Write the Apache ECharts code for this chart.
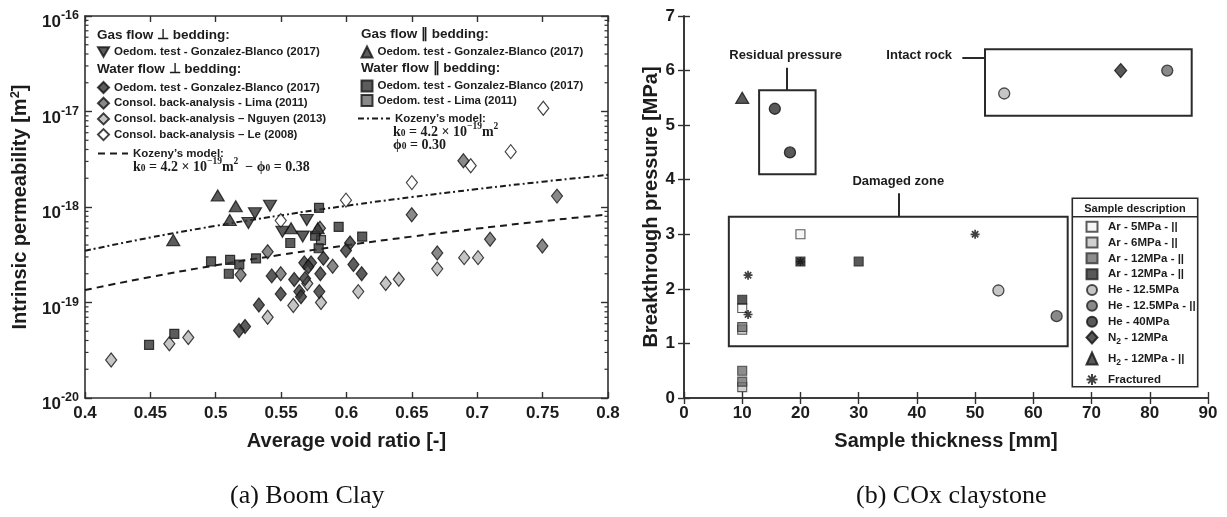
<!DOCTYPE html>
<html><head><meta charset="utf-8">
<script src="https://cdn.jsdelivr.net/npm/echarts@6/dist/echarts.min.js"></script>
<style>html,body{margin:0;padding:0;background:#fff}#c{width:1227px;height:517px}</style>
</head><body><div id="c"></div>
<script>
// ================= Panel (a) Boom Clay : [average void ratio, intrinsic permeability m2]
const gasPerpGonzalez = [[0.5415,1.03e-18],[0.530,8.6e-19],[0.525,6.8e-19],[0.5696,7.3e-19],[0.551,5.5e-19],[0.5665,4.9e-19]];
const gasParGonzalez = [[0.5015,1.32e-18],[0.5153,1.02e-18],[0.5107,7.3e-19],[0.4675,4.5e-19],[0.5576,6.0e-19],[0.578,6.0e-19]];
const waterPerpGonzalez = [[0.6027,4.2e-19],[0.5996,3.5e-19],[0.5823,2.9e-19],[0.5677,2.6e-19],[0.5729,2.6e-19],[0.6053,2.5e-19],[0.5708,2.37e-19],[0.5428,1.9e-19],[0.580,2.0e-19],[0.6116,2.0e-19],[0.560,1.74e-19],[0.5683,1.78e-19],[0.5639,1.3e-19],[0.5792,1.3e-19],[0.5497,1.23e-19],[0.5652,1.15e-19],[0.533,9.4e-20],[0.5224,5.6e-20],[0.5178,5.1e-20]];
const waterPerpLima = [[0.6894,3.05e-18],[0.761,1.3e-18],[0.6499,8.3e-19],[0.7098,4.6e-19],[0.7498,3.9e-19],[0.6694,3.3e-19],[0.5397,3.4e-19],[0.5894,2.4e-19],[0.5497,2.0e-19],[0.519,1.95e-19],[0.5797,6.0e-19]];
const waterPerpNguyen = [[0.690,2.95e-19],[0.7006,2.95e-19],[0.6694,2.25e-19],[0.640,1.75e-19],[0.630,1.58e-19],[0.609,1.3e-19],[0.5805,1.0e-19],[0.5593,9.3e-20],[0.570,1.58e-19],[0.5397,7.0e-20],[0.479,4.3e-20],[0.4645,3.7e-20],[0.420,2.5e-20]];
const waterPerpLe = [[0.7505,1.08e-17],[0.7256,3.8e-18],[0.695,2.7e-18],[0.650,1.8e-18],[0.5996,1.18e-18],[0.5497,7.2e-19]];
const waterParGonzalez = [[0.4964,2.7e-19],[0.511,2.8e-19],[0.518,2.5e-19],[0.510,2.0e-19],[0.5308,2.9e-19],[0.557,4.2e-19],[0.576,5.0e-19],[0.5787,3.7e-19],[0.579,9.8e-19],[0.594,6.2e-19],[0.612,4.9e-19],[0.4683,4.7e-20],[0.449,3.6e-20]];
const waterParLima = [[0.5805,4.5e-19]];
const kozenyVoidRatio = [0.40,0.45,0.50,0.55,0.60,0.65,0.70,0.75,0.80];
const kozenyPhi038 = [1.35e-19,1.85e-19,2.45e-19,3.16e-19,3.97e-19,4.90e-19,5.94e-19,7.10e-19,8.37e-19];
const kozenyPhi030 = [3.48e-19,4.79e-19,6.35e-19,8.18e-19,1.03e-18,1.27e-18,1.54e-18,1.84e-18,2.17e-18];
const voidRatioTickLabels = ['0.4','0.45','0.5','0.55','0.6','0.65','0.7','0.75','0.8'];
const permExponents = [-20,-19,-18,-17,-16];

// ================= Panel (b) COx claystone : [sample thickness mm, breakthrough pressure MPa]
const thicknessTickLabels = ['0','10','20','30','40','50','60','70','80','90'];
const pressureTickLabels = ['0','1','2','3','4','5','6','7'];
const ar5 = [[20,3.0],[10,1.65]];
const ar6 = [[10,1.25],[10,0.2]];
const ar12a = [[10,1.3],[10,0.5],[10,0.3]];
const ar12b = [[10,1.8],[20,2.5],[30,2.5]];
const he125 = [[55,5.58],[54,1.97]];
const he125par = [[83,6.0],[64,1.5]];
const he40 = [[15.6,5.3],[18.2,4.5]];
const n2 = [[75,6.0]];
const h2 = [[10,5.5]];
const fractured = [[11,2.25],[11,1.53],[20,2.5],[50,3.0]];
const zoneNames = ['Residual pressure','Intact rock','Damaged zone'];
const zoneBoxes = [[[12.9,5.64],[22.6,4.10]],[[51.7,6.39],[87.2,5.17]],[[7.7,3.32],[65.9,0.95]]];
const zoneLeaders = [[[17.6,6.05],[17.6,5.64]],[[47.8,6.24],[51.7,6.24]],[[36.8,3.75],[36.8,3.32]]];
const zoneLabelAt = [[17.45,6.27],[40.4,6.27],[36.8,3.96]];

// ================= build
const FF = '"Liberation Sans", Arial, sans-serif';
const INK = '#1c1c1c';
const FRAME = '#303030';
const chart = echarts.init(document.getElementById('c'), null, {renderer:'canvas'});

const axisLine = {show:true, lineStyle:{color:FRAME, width:1.6}};
const axisTick = {show:true, inside:true, length:6, lineStyle:{color:FRAME, width:1.4}};
const tickFont = {color:INK, fontSize:17, fontWeight:'bold', fontFamily:FF};
const nameFont = {color:INK, fontSize:20, fontWeight:'bold', fontFamily:FF};

const labelMap = {
  gasPerpG:'Oedom. test - Gonzalez-Blanco (2017)',
  waterPerpG:'Oedom. test - Gonzalez-Blanco (2017)',
  waterPerpLima:'Consol. back-analysis - Lima (2011)',
  waterPerpNguyen:'Consol. back-analysis \u2013 Nguyen (2013)',
  waterPerpLe:'Consol. back-analysis \u2013 Le (2008)',
  kozeny038:'Kozeny\u2019s model:',
  gasParG:'Oedom. test - Gonzalez-Blanco (2017)',
  waterParG:'Oedom. test - Gonzalez-Blanco (2017)',
  waterParLima:'Oedom. test - Lima (2011)',
  kozeny030:'Kozeny\u2019s model:',
  ar5:'Ar - 5MPa - ||', ar6:'Ar - 6MPa - ||', ar12a:'Ar - 12MPa - ||', ar12b:'Ar - 12MPa - ||',
  he125:'He - 12.5MPa', he125par:'He - 12.5MPa - ||', he40:'He - 40MPa',
  n2:'{t|N}{sub|2}{t| - 12MPa}', h2:'{t|H}{sub|2}{t| - 12MPa - ||}', frac:'Fractured'
};
const legText = {fontFamily:FF, fontWeight:'bold', fontSize:11.5, color:INK, lineHeight:14,
  rich:{t:{fontFamily:FF, fontWeight:'bold', fontSize:11.5, color:INK, verticalAlign:'middle'},
        sub:{fontFamily:FF, fontWeight:'bold', fontSize:8.5, color:INK, verticalAlign:'middle', padding:[8,0,0,0]}}};
function leg(extra){
  return Object.assign({orient:'vertical', padding:0, itemGap:1.7, itemWidth:11, itemHeight:11,
    selectedMode:false, textStyle:legText, formatter:n=>labelMap[n]}, extra);
}
const legTextR = Object.assign({}, legText, {padding:[0,0,0,5.5]});

const mk = (c)=>({color:c, borderColor:'#111', borderWidth:1.2});
const downTri = 'path://M0,0L10,0L5,8.7Z';
const asterisk = 'path://M5,0L5,10M0,5L10,5M1.5,1.5L8.5,8.5M8.5,1.5L1.5,8.5';

const minorVals = [];
permExponents.slice(0,-1).forEach(e=>{ for(let k=2;k<=9;k++) minorVals.push([0.4, k*Math.pow(10,e)]); });

const series = [
  {name:'kozeny038', type:'line', xAxisIndex:0, yAxisIndex:0, data:kozenyVoidRatio.map((x,i)=>[x,kozenyPhi038[i]]),
   symbol:'none', smooth:true, lineStyle:{color:'#1a1a1a', width:2, type:[7,5]}, itemStyle:{color:'rgba(0,0,0,0)', borderWidth:0}, z:2},
  {name:'kozeny030', type:'line', xAxisIndex:0, yAxisIndex:0, data:kozenyVoidRatio.map((x,i)=>[x,kozenyPhi030[i]]),
   symbol:'none', smooth:true, lineStyle:{color:'#1a1a1a', width:2, type:[6,3,2,3]}, itemStyle:{color:'rgba(0,0,0,0)', borderWidth:0}, z:2},
  {name:'waterPerpNguyen', type:'scatter', xAxisIndex:0, yAxisIndex:0, data:waterPerpNguyen, symbol:'diamond', symbolSize:[11,14], itemStyle:mk('#b6b6b6')},
  {name:'waterPerpLe', type:'scatter', xAxisIndex:0, yAxisIndex:0, data:waterPerpLe, symbol:'diamond', symbolSize:[11,14], itemStyle:mk('#ffffff')},
  {name:'waterPerpLima', type:'scatter', xAxisIndex:0, yAxisIndex:0, data:waterPerpLima, symbol:'diamond', symbolSize:[11,14], itemStyle:mk('#6c6c6c')},
  {name:'waterParLima', type:'scatter', xAxisIndex:0, yAxisIndex:0, data:waterParLima, symbol:'rect', symbolSize:9, itemStyle:mk('#6c6c6c')},
  {name:'waterParG', type:'scatter', xAxisIndex:0, yAxisIndex:0, data:waterParGonzalez, symbol:'rect', symbolSize:9, itemStyle:mk('#333333')},
  {name:'waterPerpG', type:'scatter', xAxisIndex:0, yAxisIndex:0, data:waterPerpGonzalez, symbol:'diamond', symbolSize:[11,14], itemStyle:mk('#333333')},
  {name:'gasParG', type:'scatter', xAxisIndex:0, yAxisIndex:0, data:gasParGonzalez, symbol:'triangle', symbolSize:[13,11], itemStyle:mk('#333333')},
  {name:'gasPerpG', type:'scatter', xAxisIndex:0, yAxisIndex:0, data:gasPerpGonzalez, symbol:downTri, symbolSize:[13,11], itemStyle:mk('#333333')},
  {name:'minorTicks', type:'custom', xAxisIndex:0, yAxisIndex:0, data:minorVals, silent:true, clip:false,
   renderItem:(params, api)=>{
     const v = api.value(1);
     const a = api.coord([0.4, v]); const b = api.coord([0.8, v]);
     return {type:'group', children:[
       {type:'line', shape:{x1:a[0], y1:a[1], x2:a[0]+3.5, y2:a[1]}, style:{stroke:FRAME, lineWidth:1.2}},
       {type:'line', shape:{x1:b[0]-3.5, y1:b[1], x2:b[0], y2:b[1]}, style:{stroke:FRAME, lineWidth:1.2}}]};
   }},
  // panel b
  {name:'zones', type:'scatter', xAxisIndex:2, yAxisIndex:2, data:[], silent:true,
   markArea:{silent:true, itemStyle:{color:'rgba(0,0,0,0)', borderColor:'#2a2a2a', borderWidth:2}, label:{show:false},
     data: zoneBoxes.map(b=>[{coord:b[0]},{coord:b[1]}])},
   markLine:{silent:true, symbol:['none','none'], lineStyle:{type:'solid', color:'#2a2a2a', width:2}, label:{show:false},
     data: zoneLeaders.map(l=>[{coord:l[0]},{coord:l[1]}])},
   markPoint:{silent:true, symbol:'circle', symbolSize:1, itemStyle:{color:'rgba(0,0,0,0)'},
     label:{show:true, position:'inside', formatter:p=>p.name, color:INK, fontSize:13, fontWeight:'bold', fontFamily:FF},
     data: zoneNames.map((n,i)=>({name:n, coord:zoneLabelAt[i]}))}},
  {name:'ar5', type:'scatter', xAxisIndex:2, yAxisIndex:2, data:ar5, symbol:'rect', symbolSize:9, itemStyle:{color:'#f4f4f4', borderColor:'#333', borderWidth:1.1}},
  {name:'ar6', type:'scatter', xAxisIndex:2, yAxisIndex:2, data:ar6, symbol:'rect', symbolSize:9, itemStyle:{color:'#c4c4c4', borderColor:'#333', borderWidth:1.1}},
  {name:'ar12a', type:'scatter', xAxisIndex:2, yAxisIndex:2, data:ar12a, symbol:'rect', symbolSize:9, itemStyle:{color:'#707070', borderColor:'#333', borderWidth:1.1}},
  {name:'ar12b', type:'scatter', xAxisIndex:2, yAxisIndex:2, data:ar12b, symbol:'rect', symbolSize:9, itemStyle:{color:'#2f2f2f', borderColor:'#222', borderWidth:1.1}},
  {name:'he125', type:'scatter', xAxisIndex:2, yAxisIndex:2, data:he125, symbol:'circle', symbolSize:11, itemStyle:{color:'#b8b8b8', borderColor:'#222', borderWidth:1.3}},
  {name:'he125par', type:'scatter', xAxisIndex:2, yAxisIndex:2, data:he125par, symbol:'circle', symbolSize:11, itemStyle:{color:'#6c6c6c', borderColor:'#222', borderWidth:1.3}},
  {name:'he40', type:'scatter', xAxisIndex:2, yAxisIndex:2, data:he40, symbol:'circle', symbolSize:11, itemStyle:{color:'#2f2f2f', borderColor:'#111', borderWidth:1.3}},
  {name:'n2', type:'scatter', xAxisIndex:2, yAxisIndex:2, data:n2, symbol:'diamond', symbolSize:[12,14], itemStyle:{color:'#2f2f2f', borderColor:'#111', borderWidth:1.2}},
  {name:'h2', type:'scatter', xAxisIndex:2, yAxisIndex:2, data:h2, symbol:'triangle', symbolSize:[13,11], itemStyle:{color:'#2f2f2f', borderColor:'#111', borderWidth:1.2}},
  {name:'frac', type:'scatter', xAxisIndex:2, yAxisIndex:2, data:fractured, symbol:asterisk, symbolSize:9, itemStyle:{color:'rgba(0,0,0,0)', borderColor:'#111', borderWidth:1.7}}
];

const supRich = {
  b:{fontSize:17, fontWeight:'bold', fontFamily:FF, color:INK, verticalAlign:'middle'},
  s:{fontSize:12.5, fontWeight:'bold', fontFamily:FF, color:INK, verticalAlign:'middle', padding:[0,0,13,0]}
};
const serifBold = {fontFamily:'"Liberation Serif", "DejaVu Serif", serif', fontWeight:'bold', fill:INK};
const mathRich = {
  m:Object.assign({fontSize:14, lineHeight:17, verticalAlign:'bottom'}, serifBold),
  sub:Object.assign({fontSize:9.5, lineHeight:9, verticalAlign:'bottom'}, serifBold),
  sup:Object.assign({fontSize:9.5, lineHeight:9, verticalAlign:'top'}, serifBold)
};
const headFont = 'bold 13.5px ' + FF;

const option = {
  backgroundColor:'#ffffff',
  animation:false,
  grid:[{left:85, top:16, width:523, height:382}, {left:684, top:16, width:524, height:382}],
  xAxis:[
    {gridIndex:0, type:'value', min:0.4, max:0.8, interval:0.05, position:'bottom', axisLine, axisTick,
     axisLabel:Object.assign({margin:7, formatter:v=>voidRatioTickLabels[Math.round((v-0.4)/0.05)]}, tickFont),
     splitLine:{show:false}, name:'Average void ratio [-]', nameLocation:'middle', nameGap:33, nameTextStyle:nameFont},
    {gridIndex:0, type:'value', min:0.4, max:0.8, interval:0.05, position:'top', axisLine, axisTick, axisLabel:{show:false}, splitLine:{show:false}},
    {gridIndex:1, type:'value', min:0, max:90, interval:10, position:'bottom', axisLine, axisTick,
     axisLabel:Object.assign({margin:7, formatter:v=>thicknessTickLabels[Math.round(v/10)]}, tickFont),
     splitLine:{show:false}, name:'Sample thickness [mm]', nameLocation:'middle', nameGap:33, nameTextStyle:nameFont},
    {gridIndex:1, type:'value', min:0, max:90, interval:10, position:'top', axisLine, axisTick, axisLabel:{show:false}, splitLine:{show:false}}
  ],
  yAxis:[
    {gridIndex:0, type:'log', logBase:10, min:1e-20, max:1e-16, position:'left', axisLine, axisTick:Object.assign({}, axisTick, {length:7}),
     axisLabel:{margin:6, padding:[13,0,0,0], rich:supRich,
       formatter:v=>{const e=Math.round(Math.log10(v)); return permExponents.includes(e)?'{b|10}{s|'+e+'}':'';}},
     splitLine:{show:false}, name:'{t|Intrinsic permeability [m}{s|2}{t|]}', nameLocation:'middle', nameGap:53,
     nameTextStyle:Object.assign({}, nameFont, {rich:{
       t:{fontSize:20, fontWeight:'bold', fontFamily:FF, color:INK, verticalAlign:'middle'},
       s:{fontSize:13, fontWeight:'bold', fontFamily:FF, color:INK, verticalAlign:'middle', padding:[0,0,10,0]}}})},
    {gridIndex:0, type:'log', logBase:10, min:1e-20, max:1e-16, position:'right', axisLine, axisTick:Object.assign({}, axisTick, {length:7}), axisLabel:{show:false}, splitLine:{show:false}},
    {gridIndex:1, type:'value', min:0, max:7, interval:1, position:'left', axisLine, axisTick,
     axisLabel:Object.assign({margin:9, formatter:v=>pressureTickLabels[Math.round(v)]}, tickFont),
     splitLine:{show:false}, name:'Breakthrough pressure [MPa]', nameLocation:'middle', nameGap:17, nameTextStyle:nameFont},
    {gridIndex:1, type:'value', min:0, max:7, interval:1, position:'right', axisLine, axisTick, axisLabel:{show:false}, splitLine:{show:false}}
  ],
  legend:[
    leg({left:97, top:45, data:['gasPerpG']}),
    leg({left:97, top:80.5, data:['waterPerpG','waterPerpLima','waterPerpNguyen','waterPerpLe']}),
    leg({left:97, top:146.5, itemWidth:30, data:['kozeny038']}),
    leg({left:360.5, top:45, data:['gasParG']}),
    leg({left:360.5, top:79, itemGap:0.5, data:['waterParG','waterParLima']}),
    leg({left:357, top:111.5, itemWidth:32, data:['kozeny030']}),
    leg({left:1085.5, top:219.7, itemWidth:11, itemHeight:10, itemGap:1.83, z:6, textStyle:legTextR,
      data:['ar5','ar6','ar12a','ar12b','he125','he125par','he40']}),
    leg({left:1085.5, top:330.5, itemWidth:11, itemHeight:12, itemGap:5.5, z:6, textStyle:legTextR,
      data:['n2','h2','frac']})
  ],
  graphic:[
    {type:'text', left:97, top:28, z:100, style:{text:'Gas flow \u22a5 bedding:', font:headFont, fill:INK}},
    {type:'text', left:97, top:62, z:100, style:{text:'Water flow \u22a5 bedding:', font:headFont, fill:INK}},
    {type:'text', left:361, top:27, z:100, style:{text:'Gas flow \u2225 bedding:', font:headFont, fill:INK}},
    {type:'text', left:361, top:61, z:100, style:{text:'Water flow \u2225 bedding:', font:headFont, fill:INK}},
    {type:'text', left:133, top:157, z:100, style:{text:'{m|k}{sub|0}{m| = 4.2 \u00d7 10}{sup|\u221219}{m|m}{sup|2}{m|  \u2212 \u03d5}{sub|0}{m| = 0.38}', rich:mathRich}},
    {type:'text', left:393, top:122, z:100, style:{text:'{m|k}{sub|0}{m| = 4.2 \u00d7 10}{sup|\u221219}{m|m}{sup|2}', rich:mathRich}},
    {type:'text', left:393, top:138, z:100, style:{text:'{m|\u03d5}{sub|0}{m| = 0.30}', rich:mathRich}},
    {type:'rect', z:5, shape:{x:1072.3, y:198.3, width:125.4, height:188.4}, style:{fill:'#ffffff', stroke:'#2a2a2a', lineWidth:1.6}},
    {type:'text', z:100, x:1135, y:209, style:{text:'Sample description', font:'bold 11px '+FF, fill:INK, align:'center', verticalAlign:'middle'}},
    {type:'line', z:100, shape:{x1:1072.3, y1:216.7, x2:1197.7, y2:216.7}, style:{stroke:'#2a2a2a', lineWidth:1.4}},
    {type:'text', left:230, top:483, z:100, style:{text:'(a) Boom Clay', font:'26px "Liberation Serif", serif', fill:'#111'}},
    {type:'text', left:856, top:483, z:100, style:{text:'(b) COx claystone', font:'26px "Liberation Serif", serif', fill:'#111'}}
  ],
  series
};
chart.setOption(option);
</script></body></html>
